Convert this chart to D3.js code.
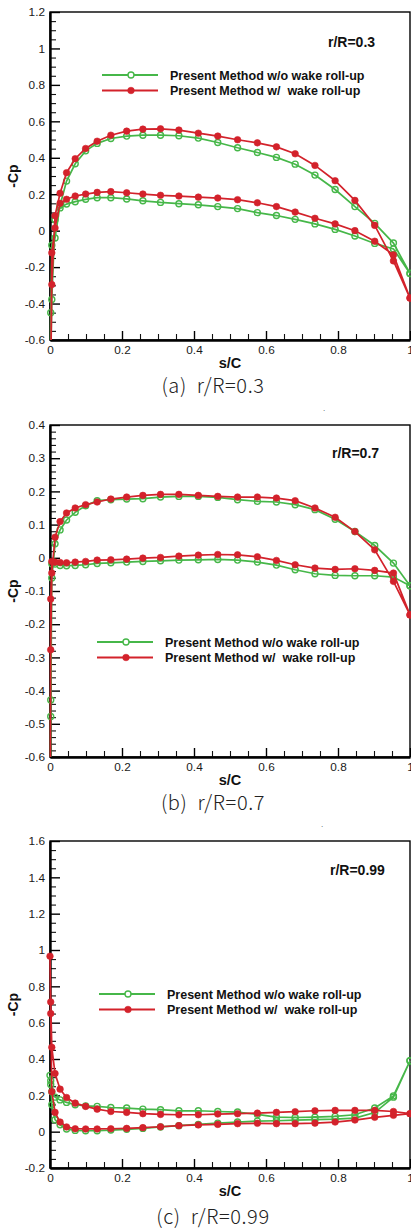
<!DOCTYPE html>
<html>
<head>
<meta charset="utf-8">
<script src="https://cdn.jsdelivr.net/npm/d3@7"></script>
<style>
  body { margin: 0; background: #fff; }
  svg { display: block; }
  text { font-family: "Liberation Sans", Arial, sans-serif; }
</style>
</head>
<body>
<svg></svg>
<script>
const width = 411;
const height = 1232;

// s/C stations shared by both surfaces (index 0 = leading edge)
const sStations = [0, 0.002, 0.005, 0.014, 0.028, 0.046, 0.070, 0.099, 0.131, 0.169, 0.213, 0.258, 0.307,
  0.358, 0.412, 0.466, 0.521, 0.576, 0.629, 0.681, 0.736, 0.792, 0.847, 0.902, 0.954, 1.0];

// (a) r/R=0.3
const aGreenUpper = [-1.0, -0.45, -0.08, -0.04, 0.14, 0.272, 0.367, 0.438, 0.479, 0.506, 0.519, 0.524, 0.524,
  0.521, 0.508, 0.484, 0.455, 0.429, 0.402, 0.365, 0.305, 0.226, 0.132, 0.04, -0.068, -0.235];
const aGreenLower = [-1.0, -0.7, -0.378, 0.06, 0.125, 0.146, 0.159, 0.172, 0.181, 0.181, 0.174, 0.164, 0.155,
  0.148, 0.142, 0.132, 0.121, 0.099, 0.083, 0.062, 0.037, 0.007, -0.029, -0.07, -0.10, -0.235];
const aRedUpper = [-1.0, -0.8, -0.296, 0.082, 0.205, 0.318, 0.395, 0.451, 0.491, 0.524, 0.546, 0.557, 0.559,
  0.552, 0.535, 0.519, 0.499, 0.482, 0.460, 0.422, 0.358, 0.274, 0.166, 0.029, -0.166, -0.37];
const aRedLower = [-1.0, -0.8, -0.122, 0.015, 0.150, 0.172, 0.190, 0.201, 0.210, 0.214, 0.208, 0.201, 0.194,
  0.190, 0.184, 0.179, 0.170, 0.153, 0.132, 0.102, 0.068, 0.037, 0.0, -0.058, -0.133, -0.37];

// (b) r/R=0.7
const bGreenUpper = [-1.0, -0.478, -0.061, 0.042, 0.084, 0.114, 0.137, 0.157, 0.172, 0.175, 0.177, 0.178, 0.183,
  0.185, 0.185, 0.182, 0.175, 0.170, 0.168, 0.160, 0.145, 0.116, 0.079, 0.037, -0.016, -0.084];
const bGreenLower = [-1.0, -0.428, -0.018, -0.019, -0.023, -0.024, -0.023, -0.021, -0.017, -0.015, -0.013, -0.011,
  -0.009, -0.007, -0.006, -0.005, -0.007, -0.013, -0.022, -0.036, -0.048, -0.053, -0.054, -0.054, -0.058, -0.084];
const bRedUpper = [-1.0, -0.277, -0.046, 0.062, 0.109, 0.135, 0.150, 0.160, 0.168, 0.177, 0.183, 0.188, 0.191,
  0.191, 0.188, 0.185, 0.183, 0.183, 0.180, 0.172, 0.150, 0.122, 0.079, 0.024, -0.071, -0.172];
const bRedLower = [-1.0, -0.124, -0.011, -0.013, -0.014, -0.015, -0.013, -0.011, -0.007, -0.006, -0.004, -0.001,
  0.001, 0.005, 0.008, 0.010, 0.009, 0.003, -0.008, -0.021, -0.031, -0.035, -0.033, -0.038, -0.046, -0.172];

// (c) r/R=0.99
const cGreenUpper = [0.31, 0.28, 0.22, 0.19, 0.175, 0.161, 0.148, 0.142, 0.139, 0.133, 0.130, 0.124, 0.121,
  0.115, 0.115, 0.111, 0.108, 0.095, 0.080, 0.078, 0.080, 0.084, 0.093, 0.13, 0.197, 0.39];
const cGreenLower = [0.31, 0.26, 0.148, 0.066, 0.038, 0.015, 0.007, 0.005, 0.005, 0.009, 0.013, 0.018, 0.026,
  0.033, 0.040, 0.047, 0.053, 0.058, 0.060, 0.063, 0.066, 0.069, 0.075, 0.105, 0.19, 0.39];
const cRedUpper = [0.966, 0.714, 0.464, 0.32, 0.234, 0.188, 0.157, 0.139, 0.124, 0.111, 0.106, 0.099, 0.095,
  0.093, 0.093, 0.097, 0.099, 0.102, 0.106, 0.110, 0.115, 0.117, 0.117, 0.117, 0.111, 0.099];
const cRedLower = [0.966, 0.65, 0.22, 0.106, 0.053, 0.026, 0.016, 0.015, 0.015, 0.016, 0.018, 0.022, 0.027,
  0.033, 0.037, 0.040, 0.044, 0.046, 0.044, 0.044, 0.047, 0.053, 0.064, 0.079, 0.090, 0.099];

const xTicks = [0, 0.2, 0.4, 0.6, 0.8, 1];
const xTickLabels = ['0', '0.2', '0.4', '0.6', '0.8', '1'];
const yTicksA = [-0.6, -0.4, -0.2, 0, 0.2, 0.4, 0.6, 0.8, 1, 1.2];
const yTickLabelsA = ['-0.6', '-0.4', '-0.2', '0', '0.2', '0.4', '0.6', '0.8', '1', '1.2'];
const yTicksB = [-0.6, -0.5, -0.4, -0.3, -0.2, -0.1, 0, 0.1, 0.2, 0.3, 0.4];
const yTickLabelsB = ['-0.6', '-0.5', '-0.4', '-0.3', '-0.2', '-0.1', '0', '0.1', '0.2', '0.3', '0.4'];
const yTicksC = [-0.2, 0, 0.2, 0.4, 0.6, 0.8, 1, 1.2, 1.4, 1.6];
const yTickLabelsC = ['-0.2', '0', '0.2', '0.4', '0.6', '0.8', '1', '1.2', '1.4', '1.6'];

const legendLabels = ['Present Method w/o wake roll-up', 'Present Method w/  wake roll-up'];
const green = '#46b749';
const red = '#d3222b';

const panels = [
  { top: 12, bottom: 340, domain: [-0.6, 1.2], ticks: yTicksA, labels: yTickLabelsA, minor: 0.05,
    green: [aGreenUpper, aGreenLower], red: [aRedUpper, aRedLower],
    tag: 'r/R=0.3', tagX: 328, tagY: 47, legX: 102, legY: 75, caption: '(a)  r/R=0.3', capY: 393, dot: [323, 411] },
  { top: 425, bottom: 757, domain: [-0.6, 0.4], ticks: yTicksB, labels: yTickLabelsB, minor: 0.02,
    green: [bGreenUpper, bGreenLower], red: [bRedUpper, bRedLower],
    tag: 'r/R=0.7', tagX: 332, tagY: 458, legX: 97, legY: 642, caption: '(b)  r/R=0.7', capY: 810, dot: [321, 827] },
  { top: 841, bottom: 1168, domain: [-0.2, 1.6], ticks: yTicksC, labels: yTickLabelsC, minor: 0.05,
    green: [cGreenUpper, cGreenLower], red: [cRedUpper, cRedLower],
    tag: 'r/R=0.99', tagX: 330, tagY: 875, legX: 99, legY: 994, caption: '(c)  r/R=0.99', capY: 1224, dot: null }
];

const left = 50, right = 410;
const svg = d3.select('svg').attr('width', width).attr('height', height);
svg.append('rect').attr('width', width).attr('height', height).attr('fill', '#fff');

const x = d3.scaleLinear().domain([0, 1]).range([0, right - left]);

function loop(upper, lower) {
  const low = lower.map((v, i) => [sStations[i], v]).reverse();
  const up = upper.map((v, i) => [sStations[i], v]).slice(1);
  return low.concat(up);
}

panels.forEach((p, pi) => {
  const h = p.bottom - p.top;
  const w = right - left;
  const y = d3.scaleLinear().domain(p.domain).range([h, 0]);
  const g = svg.append('g').attr('transform', 'translate(' + left + ',' + p.top + ')');

  svg.append('defs').append('clipPath').attr('id', 'clip' + pi)
    .append('rect').attr('x', -8).attr('y', 0).attr('width', w + 16).attr('height', h);

  // frame
  g.append('rect').attr('width', w).attr('height', h)
    .attr('fill', 'none').attr('stroke', '#000').attr('stroke-width', 1.4);

  // minor ticks
  const minorY = d3.range(p.domain[0], p.domain[1] + 1e-9, p.minor).filter(v => !p.ticks.some(t => Math.abs(t - v) < 1e-6));
  const minorX = d3.range(0, 1 + 1e-9, 0.05).filter(v => !xTicks.some(t => Math.abs(t - v) < 1e-6));
  g.append('g').call(d3.axisLeft(y).tickValues(minorY).tickSizeInner(-6).tickSizeOuter(0).tickFormat(''))
    .call(a => a.select('.domain').remove())
    .selectAll('line').attr('stroke', '#111').attr('stroke-width', 1.1);
  g.append('g').attr('transform', 'translate(0,' + h + ')')
    .call(d3.axisBottom(x).tickValues(minorX).tickSizeInner(-6).tickSizeOuter(0).tickFormat(''))
    .call(a => a.select('.domain').remove())
    .selectAll('line').attr('stroke', '#111').attr('stroke-width', 1.1);

  // major ticks
  const yAxis = g.append('g').call(d3.axisLeft(y).tickValues(p.ticks).tickSizeInner(-10).tickSizeOuter(0).tickPadding(5)
    .tickFormat((d, i) => p.labels[i]));
  const xAxis = g.append('g').attr('transform', 'translate(0,' + h + ')')
    .call(d3.axisBottom(x).tickValues(xTicks).tickSizeInner(-9).tickSizeOuter(0).tickPadding(6)
      .tickFormat((d, i) => xTickLabels[i]));
  [yAxis, xAxis].forEach(a => {
    a.select('.domain').attr('stroke', '#000').attr('stroke-width', 2.4);
    a.selectAll('line').attr('stroke', '#000').attr('stroke-width', 1.4);
    a.selectAll('text').attr('fill', '#1a1a1a').style('font-size', '11.8px')
      .style('font-family', '"Liberation Sans", Arial, sans-serif');
  });

  // curves
  const line = d3.line().x(d => x(d[0])).y(d => y(d[1]));
  const plot = g.append('g').attr('clip-path', 'url(#clip' + pi + ')');
  [['green', p.green], ['red', p.red]].forEach(([name, pair]) => {
    const pts = loop(pair[0], pair[1]);
    const col = name === 'green' ? green : red;
    plot.append('path').datum(pts).attr('d', line)
      .attr('fill', 'none').attr('stroke', col).attr('stroke-width', 1.7);
    plot.selectAll('.m' + name).data(pts).enter().append('circle')
      .attr('class', 'm' + name)
      .attr('cx', d => x(d[0])).attr('cy', d => y(d[1]))
      .attr('r', name === 'green' ? 3 : 3.3)
      .attr('fill', name === 'green' ? '#fff' : red)
      .attr('fill-opacity', name === 'green' ? 0 : 1)
      .attr('stroke', col).attr('stroke-width', name === 'green' ? 1.4 : 0.6);
  });

  // legend
  [[green, true], [red, false]].forEach(([col, open], i) => {
    const ly = p.legY + i * 15.5;
    svg.append('line').attr('x1', p.legX).attr('x2', p.legX + 56).attr('y1', ly).attr('y2', ly)
      .attr('stroke', col).attr('stroke-width', 1.8);
    svg.append('circle').attr('cx', p.legX + 29).attr('cy', ly).attr('r', open ? 3 : 3.3)
      .attr('fill', open ? '#fff' : col).attr('stroke', col).attr('stroke-width', open ? 1.4 : 0.6);
    svg.append('text').attr('x', p.legX + 68).attr('y', ly + 4.5)
      .style('font-size', '12.5px').style('font-weight', 'bold').style('white-space', 'pre')
      .attr('fill', '#111').text(legendLabels[i]);
  });

  // annotation
  svg.append('text').attr('x', p.tagX).attr('y', p.tagY)
    .style('font-size', '14px').style('font-weight', 'bold').attr('fill', '#111').text(p.tag);

  // axis titles
  svg.append('text').attr('x', left + w / 2).attr('y', p.bottom + 27.5).attr('text-anchor', 'middle')
    .style('font-size', '14.5px').style('font-weight', 'bold').attr('fill', '#111').text('s/C');
  svg.append('text').attr('transform', 'translate(18,' + (p.top + h / 2) + ') rotate(-90)')
    .attr('text-anchor', 'middle')
    .style('font-size', '14px').style('font-weight', 'bold').attr('fill', '#111').text('-Cp');

  // caption
  svg.append('text').attr('x', 213).attr('y', p.capY).attr('text-anchor', 'middle')
    .style('font-size', '20px').style('font-weight', '300').style('letter-spacing', '0.6px')
    .style('white-space', 'pre')
    .style('font-family', '"Noto Sans CJK KR", "Noto Sans", sans-serif')
    .attr('fill', '#222').text(p.caption);

  if (p.dot) {
    svg.append('text').attr('x', p.dot[0]).attr('y', p.dot[1]).style('font-size', '8px')
      .attr('fill', '#444').text('.');
  }
});
</script>
</body>
</html>
